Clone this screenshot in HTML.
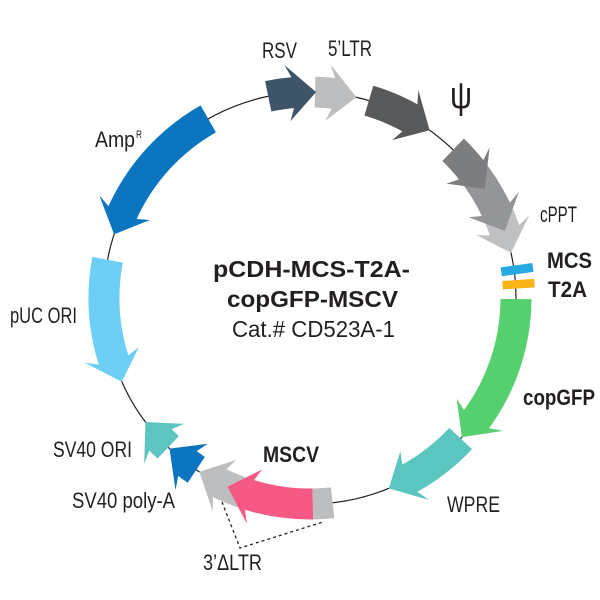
<!DOCTYPE html>
<html><head><meta charset="utf-8"><style>
html,body{margin:0;padding:0;background:#fff;}
svg{display:block;}
text{font-family:"Liberation Sans",Arial,sans-serif;fill:#231f20;}
.b{font-weight:bold;}
</style></head><body>
<svg width="600" height="600" viewBox="0 0 600 600" xmlns="http://www.w3.org/2000/svg">
<defs>
<polygon id="h" points="315.80,76.58 310,63.5 338.67,94.0 310,120 314.99,107.57"/>
<polygon id="hm" points="304.20,76.58 310,63.5 281.33,94.0 310,120 305.01,107.57"/>
</defs>
<rect width="600" height="600" fill="#fff"/>
<circle cx="310" cy="298" r="206" fill="none" stroke="#231f20" stroke-width="1.2"/>

<!-- 5'LTR -->
<circle cx="310" cy="298" r="206" fill="none" stroke="#bcbec0" stroke-width="31" stroke-dasharray="21.93 2000" transform="rotate(-88.6 310 298)"/>
<use href="#h" fill="#bcbec0" transform="rotate(5 310 298)"/>
<!-- RSV -->
<circle cx="310" cy="298" r="206" fill="none" stroke="#3e5569" stroke-width="31" stroke-dasharray="28.4 2000" transform="rotate(-101.7 310 298)"/>
<use href="#h" fill="#3e5569" transform="rotate(-6.3 310 298)"/>
<!-- psi -->
<circle cx="310" cy="298" r="206" fill="none" stroke="#58595b" stroke-width="31" stroke-dasharray="48.18 2000" transform="rotate(-73.4 310 298)"/>
<use href="#h" fill="#58595b" transform="rotate(27.5 310 298)"/>
<!-- cPPT -->
<circle cx="310" cy="298" r="206" fill="none" stroke="#bfc0c2" stroke-width="31" stroke-dasharray="35.23 2000" transform="rotate(-28 310 298)"/>
<use href="#h" fill="#bfc0c2" transform="rotate(69.3 310 298)"/>
<!-- B -->
<circle cx="310" cy="298" r="206" fill="none" stroke="#949598" stroke-width="31" stroke-dasharray="52.85 2000" transform="rotate(-39.2 310 298)"/>
<use href="#h" fill="#949598" transform="rotate(63 310 298)"/>
<!-- A -->
<circle cx="310" cy="298" r="206" fill="none" stroke="#7c7d7f" stroke-width="31" stroke-dasharray="30.56 2000" transform="rotate(-46 310 298)"/>
<use href="#h" fill="#7c7d7f" transform="rotate(50 310 298)"/>

<!-- MCS / T2A bars -->
<rect x="305.5" y="73" width="9" height="32" fill="#27aae1" transform="rotate(82.2 310 298)"/>
<rect x="305.75" y="73" width="8.5" height="32" fill="#fbb416" transform="rotate(86.2 310 298)"/>

<!-- copGFP -->
<circle cx="310" cy="298" r="206" fill="none" stroke="#56d06f" stroke-width="31" stroke-dasharray="131.95 2000" transform="rotate(0.3 310 298)"/>
<use href="#h" fill="#56d06f" transform="rotate(124.5 310 298)"/>
<!-- WPRE -->
<circle cx="310" cy="298" r="206" fill="none" stroke="#5bc5c0" stroke-width="31" stroke-dasharray="68.31 2000" transform="rotate(43 310 298)"/>
<use href="#h" fill="#5bc5c0" transform="rotate(149.5 310 298)"/>
<!-- 3'LTR gray arrow -->
<circle cx="310" cy="298" r="206" fill="none" stroke="#bcbec0" stroke-width="31" stroke-dasharray="68.31 2000" transform="rotate(98 310 298)"/>
<use href="#h" fill="#bcbec0" transform="rotate(204.5 310 298)"/>
<!-- MSCV pink -->
<circle cx="310" cy="298" r="206" fill="none" stroke="#f65a84" stroke-width="31" stroke-dasharray="67.95 2000" transform="rotate(89.2 310 298)"/>
<use href="#h" fill="#f65a84" transform="rotate(195.6 310 298)"/>
<!-- gray box -->
<circle cx="310" cy="298" r="206" fill="none" stroke="#bcbec0" stroke-width="31" stroke-dasharray="19.77 2000" transform="rotate(83.7 310 298)"/>
<!-- SV40 ORI -->
<circle cx="310" cy="298" r="206" fill="none" stroke="#5cc5bf" stroke-width="31" stroke-dasharray="14.38 2000" transform="rotate(133.5 310 298)"/>
<use href="#h" fill="#5cc5bf" transform="rotate(225 310 298)"/>
<!-- SV40 polyA -->
<circle cx="310" cy="298" r="206" fill="none" stroke="#0b76bf" stroke-width="31" stroke-dasharray="14.38 2000" transform="rotate(123.5 310 298)"/>
<use href="#h" fill="#0b76bf" transform="rotate(215 310 298)"/>
<!-- pUC ORI -->
<circle cx="310" cy="298" r="206" fill="none" stroke="#6dcff6" stroke-width="31" stroke-dasharray="104.99 2000" transform="rotate(161.5 310 298)"/>
<use href="#hm" fill="#6dcff6" transform="rotate(254 310 298)"/>
<!-- AmpR -->
<circle cx="310" cy="298" r="206" fill="none" stroke="#0b76bf" stroke-width="31" stroke-dasharray="132.67 2000" transform="rotate(203.5 310 298)"/>
<use href="#hm" fill="#0b76bf" transform="rotate(296 310 298)"/>

<!-- dashed 3'LTR bracket -->
<polyline points="222,502 240,548 323,522" fill="none" stroke="#231f20" stroke-width="1.3" stroke-dasharray="3 3"/>

<!-- labels -->
<text x="262" y="58" font-size="22" textLength="35" lengthAdjust="spacingAndGlyphs">RSV</text>
<text x="328" y="56" font-size="22" textLength="44" lengthAdjust="spacingAndGlyphs">5’LTR</text>
<text x="450" y="108" font-size="38" textLength="22" lengthAdjust="spacingAndGlyphs">ψ</text>
<text x="540" y="222" font-size="22" textLength="37" lengthAdjust="spacingAndGlyphs">cPPT</text>
<text class="b" x="547" y="268" font-size="22" textLength="45" lengthAdjust="spacingAndGlyphs">MCS</text>
<text class="b" x="548" y="297" font-size="22" textLength="39" lengthAdjust="spacingAndGlyphs">T2A</text>
<text class="b" x="523" y="405" font-size="22" textLength="72" lengthAdjust="spacingAndGlyphs">copGFP</text>
<text x="447" y="512" font-size="22" textLength="53" lengthAdjust="spacingAndGlyphs">WPRE</text>
<text class="b" x="263" y="462" font-size="22" textLength="56" lengthAdjust="spacingAndGlyphs">MSCV</text>
<text x="53" y="457" font-size="22" textLength="79" lengthAdjust="spacingAndGlyphs">SV40 ORI</text>
<text x="72" y="508" font-size="22" textLength="103" lengthAdjust="spacingAndGlyphs">SV40 poly-A</text>
<text x="203" y="570" font-size="22" textLength="59" lengthAdjust="spacingAndGlyphs">3’ΔLTR</text>
<text x="95" y="147" font-size="22" textLength="40" lengthAdjust="spacingAndGlyphs">Amp</text>
<text x="136" y="138" font-size="11" textLength="6" lengthAdjust="spacingAndGlyphs">R</text>
<text x="10" y="323" font-size="22" textLength="67" lengthAdjust="spacingAndGlyphs">pUC ORI</text>

<!-- title -->
<text class="b" x="213" y="277" font-size="23.5" textLength="197" lengthAdjust="spacingAndGlyphs">pCDH-MCS-T2A-</text>
<text class="b" x="227" y="307" font-size="23.5" textLength="171" lengthAdjust="spacingAndGlyphs">copGFP-MSCV</text>
<text x="232" y="337" font-size="23.5" textLength="163" lengthAdjust="spacingAndGlyphs">Cat.# CD523A-1</text>
</svg>
</body></html>
